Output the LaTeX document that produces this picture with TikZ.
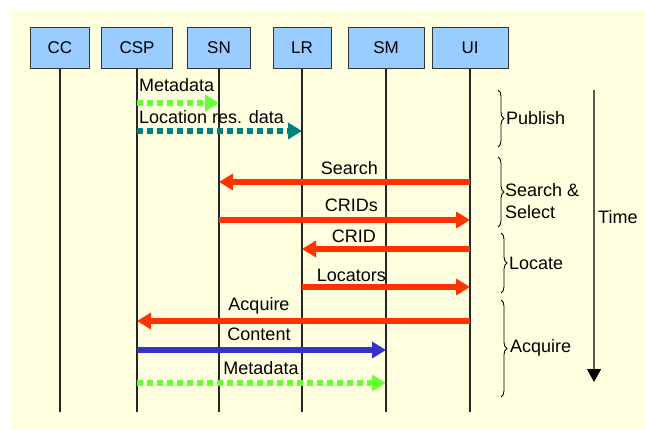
\documentclass[tikz,border=0pt]{standalone}
\usepackage{fontspec}
\setmainfont{Liberation Sans}
\usepackage{tikz}
\usetikzlibrary{arrows.meta, positioning, calc, decorations.pathreplacing}

\definecolor{bgyellow}{RGB}{255, 255, 224}
\definecolor{boxblue}{RGB}{153, 204, 255}
\definecolor{msgred}{RGB}{255, 51, 0}
\definecolor{pubgreen}{RGB}{102, 255, 51}
\definecolor{locteal}{RGB}{0, 128, 128}
\definecolor{contblue}{RGB}{51, 51, 204}

\tikzset{
  actor/.style={draw=black!80, fill=boxblue, minimum height=41pt, inner sep=0pt,
    font=\fontsize{17}{20}\selectfont},
  lifeline/.style={line width=1.5pt, black!85},
  request/.style={line width=5.5pt, msgred, -{Triangle[length=14pt, width=16pt]}},
  stream/.style={line width=5.5pt, -{Triangle[length=14pt, width=16pt]}},
  dotstream/.style={line width=6pt, dash pattern=on 6pt off 4pt, -{Triangle[length=14pt, width=16pt]}},
  msglabel/.style={inner sep=0pt, font=\fontsize{18}{22}\selectfont},
  phase/.style={line width=0.9pt, black, decorate, decoration={brace, amplitude=6pt}},
}

\begin{document}
\begin{tikzpicture}[x=1pt, y=-1pt]
  \useasboundingbox (0,0) rectangle (645,430);
  \fill[bgyellow] (12,10) rectangle (645,430);

  % actors and their lifelines
  \coordinate (bot) at (0,412);
  \foreach \name/\x/\w in {CC/60/59, CSP/137/71, SN/219/63, LR/302/58, SM/386/76, UI/470/76} {
    \node[actor, minimum width=\w pt] (\name) at (\x,48) {\name};
    \draw[lifeline] (\name.south) -- (\name.south |- bot);
  }

  % rows of the messages
  \foreach \r/\y in {r1/103, r2/131, r3/182, r4/220, r5/249, r6/287, r7/321, r8/350, r9/383} {
    \coordinate (\r) at (0,\y);
  }

  % Publish
  \draw[dotstream, pubgreen] (CSP |- r1) -- (SN |- r1);
  \node[msglabel, anchor=west] (meta1) at (139,85) {Metadata};
  \draw[dotstream, locteal] (CSP |- r2) -- (LR |- r2);
  \node[msglabel, anchor=west] (locres) at (139,117) {Location res. data};

  % Search & Select, Locate
  \draw[request] (UI |- r3) -- (SN |- r3);
  \node[msglabel, anchor=east] (search) at (378,168) {Search};
  \draw[request] (SN |- r4) -- (UI |- r4);
  \node[msglabel, anchor=east] (crids) at (378,205) {CRIDs};
  \draw[request] (UI |- r5) -- (LR |- r5);
  \node[msglabel, anchor=east] (crid) at (376,236) {CRID};
  \draw[request] (LR |- r6) -- (UI |- r6);
  \node[msglabel, anchor=east] (locators) at (386,275) {Locators};

  % Acquire
  \draw[request] (UI |- r7) -- (CSP |- r7);
  \node[msglabel] (acquire) at (259,306) {Acquire};
  \draw[stream, contblue] (CSP |- r8) -- (SM |- r8);
  \node[msglabel] (content) at (259,334) {Content};
  \draw[dotstream, pubgreen] (CSP |- r9) -- (SM |- r9);
  \node[msglabel] (meta2) at (261,368) {Metadata};

  % phases
  \draw[phase] (498,90) -- (498,147);
  \node[msglabel, anchor=west] (publish) at (506,118) {Publish};
  \draw[phase] (498,157) -- (498,227);
  \node[msglabel, anchor=west, align=left] (select) at (505,201) {Search \&\\Select};
  \draw[phase] (501,233) -- (501,293);
  \node[msglabel, anchor=west] (locate) at (509,263) {Locate};
  \draw[phase] (501,300) -- (501,397);
  \node[msglabel, anchor=west] (acq) at (510,348) {Acquire};

  % time axis
  \coordinate (t0) at (594,90);
  \coordinate (t1) at (594,382);
  \draw[line width=1.5pt, black!65, -{Triangle[length=13pt, width=14pt, black]}] (t0) -- (t1);
  \node[msglabel, anchor=west] (time) at (598,217) {Time};
\end{tikzpicture}
\end{document}
